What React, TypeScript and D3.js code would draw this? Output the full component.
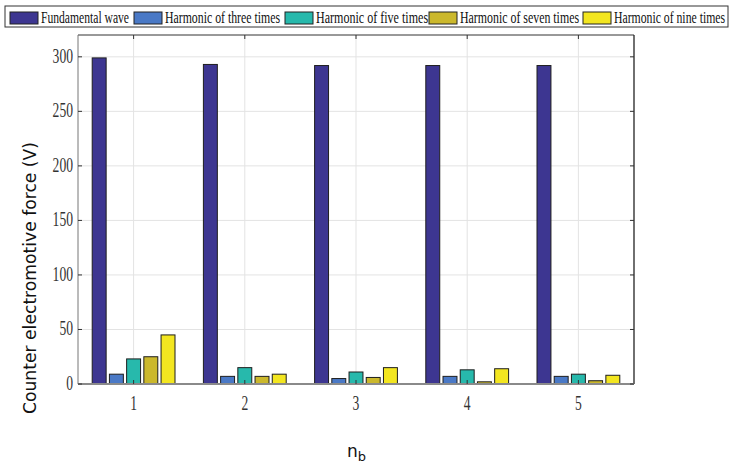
import React, { useLayoutEffect, useRef, useState } from "react";
import * as d3 from "d3";

// Counter EMF per harmonic order, for each n_b setting
const groups = [1, 2, 3, 4, 5];
const seriesNames = [
  "Fundamental wave",
  "Harmonic of three times",
  "Harmonic of five times",
  "Harmonic of seven times",
  "Harmonic of nine times",
];
const seriesColors = ["#3d3691", "#4a79c6", "#27b9ac", "#cbb82c", "#f3e620"];
const fundamental = [299, 293, 292, 292, 292];
const harmonic3 = [9, 7, 5, 7, 7];
const harmonic5 = [23, 15, 11, 13, 9];
const harmonic7 = [25, 7, 6, 2, 3];
const harmonic9 = [45, 9, 15, 14, 8];
const yTicks = [0, 50, 100, 150, 200, 250, 300];

const seriesValues = [fundamental, harmonic3, harmonic5, harmonic7, harmonic9];

const W = 731;
const H = 466;
const plot = { left: 78, right: 634, top: 35, bottom: 384 };
const serif = "'Liberation Serif', 'Times New Roman', serif";
const sans = "'DejaVu Sans', 'Liberation Sans', sans-serif";

// legend: swatch left edges and label widths
const legendSwatchX = [10, 134, 285, 429, 583];
const legendTextWidths = [88, 115, 112, 119, 111];

export default function App() {
  const labelRefs = useRef<(SVGTextElement | null)[]>([]);
  const [labelScale, setLabelScale] = useState<number[]>(
    seriesNames.map(() => 0.78)
  );

  // squeeze each legend label horizontally to its slot width
  useLayoutEffect(() => {
    const s = labelRefs.current.map((el, i) => {
      const w = el ? el.getComputedTextLength() : 0;
      return w > 0 ? legendTextWidths[i] / w : 0.78;
    });
    setLabelScale(s);
  }, []);

  const x = d3.scaleLinear().domain([0.5, 5.5]).range([plot.left, plot.right]);
  const y = d3.scaleLinear().domain([0, 320]).range([plot.bottom, plot.top]);
  const inner = d3
    .scaleBand<number>()
    .domain(d3.range(seriesNames.length))
    .range([-41.4, 41.4])
    .paddingInner(0.19);

  const legendItems = seriesNames.map((name, i) => ({
    name,
    color: seriesColors[i],
    sx: legendSwatchX[i],
    tx: legendSwatchX[i] + 31,
  }));

  return (
    <svg
      width={W}
      height={H}
      style={{ position: "absolute", left: 0, top: 0, background: "#fff" }}
    >
      {/* grid */}
      <g stroke="#e3e3e3" strokeWidth={1}>
        {yTicks.map((t) => (
          <line key={"gy" + t} x1={plot.left} x2={plot.right} y1={y(t)} y2={y(t)} />
        ))}
        {groups.map((g) => (
          <line key={"gx" + g} x1={x(g)} x2={x(g)} y1={plot.top} y2={plot.bottom} />
        ))}
      </g>

      {/* bars */}
      <g stroke="#1e1e1e" strokeWidth={1}>
        {groups.map((g, gi) =>
          seriesValues.map((vals, si) => (
            <rect
              key={`b${gi}-${si}`}
              x={x(g) + (inner(si) as number)}
              y={y(vals[gi])}
              width={inner.bandwidth()}
              height={y(0) - y(vals[gi])}
              fill={seriesColors[si]}
            />
          ))
        )}
      </g>

      {/* axes box */}
      <line x1={plot.left} x2={plot.right} y1={plot.top} y2={plot.top} stroke="#333" strokeWidth={1} />
      <line x1={plot.right} x2={plot.right} y1={plot.top} y2={plot.bottom} stroke="#222" strokeWidth={1.3} />
      <line x1={plot.left} x2={plot.left} y1={plot.top} y2={plot.bottom} stroke="#777" strokeWidth={1} />
      <line x1={plot.left} x2={plot.right} y1={plot.bottom} y2={plot.bottom} stroke="#8a8a8a" strokeWidth={2} />

      {/* ticks */}
      <g stroke="#333" strokeWidth={1}>
        {yTicks.map((t) => (
          <g key={"ty" + t}>
            <line x1={plot.left} x2={plot.left + 4} y1={y(t)} y2={y(t)} />
            <line x1={plot.right - 4} x2={plot.right} y1={y(t)} y2={y(t)} />
          </g>
        ))}
        {groups.map((g) => (
          <g key={"tx" + g}>
            <line x1={x(g)} x2={x(g)} y1={plot.top} y2={plot.top + 4} />
            <line x1={x(g)} x2={x(g)} y1={plot.bottom - 4} y2={plot.bottom} />
          </g>
        ))}
      </g>

      {/* tick labels */}
      <g fontFamily={serif} fontSize={20} fill="#333">
        {yTicks.map((t) => (
          <text
            key={"ly" + t}
            transform={`translate(73,${y(t) + 6}) scale(0.68,1)`}
            textAnchor="end"
          >
            {t}
          </text>
        ))}
        {groups.map((g) => (
          <text
            key={"lx" + g}
            transform={`translate(${x(g)},${410}) scale(0.68,1)`}
            textAnchor="middle"
          >
            {g}
          </text>
        ))}
      </g>

      {/* axis titles */}
      <text
        transform={`translate(36,${278}) rotate(-90)`}
        textAnchor="middle"
        fontFamily={sans}
        fontSize={18}
        fill="#111"
        textLength={272}
        lengthAdjust="spacingAndGlyphs"
      >
        Counter electromotive force (V)
      </text>
      <text x={347} y={457} fontFamily={sans} fontSize={17} fill="#111">
        n
        <tspan fontSize={13} dy={4}>
          b
        </tspan>
      </text>

      {/* legend */}
      <rect x={5} y={6} width={723} height={21} fill="#fff" stroke="#333" strokeWidth={1} />
      {legendItems.map((it, i) => (
        <g key={it.name}>
          <rect x={it.sx} y={12} width={28} height={12} fill={it.color} stroke="#222" strokeWidth={1} />
          <text
            ref={(el) => {
              labelRefs.current[i] = el;
            }}
            transform={`translate(${it.tx},23) scale(${labelScale[i]},1)`}
            fontFamily={serif}
            fontSize={16}
            fill="#111"
          >
            {it.name}
          </text>
        </g>
      ))}
    </svg>
  );
}
